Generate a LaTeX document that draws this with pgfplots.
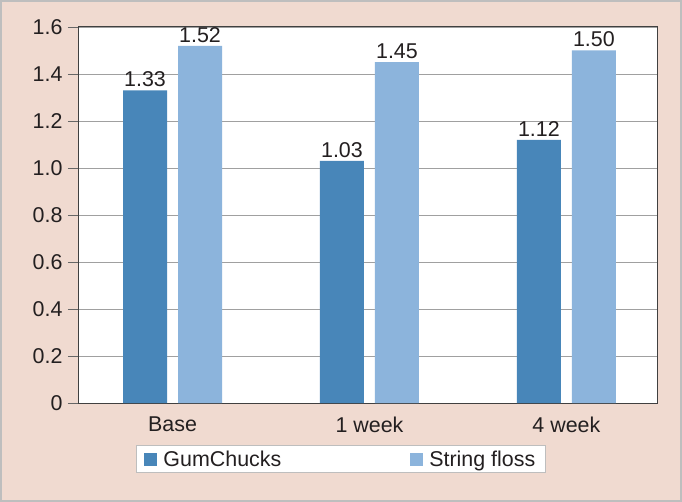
\documentclass[border=0pt]{standalone}
\usepackage{fontspec}
\setmainfont{Liberation Sans}
\usepackage{pgfplots}
\pgfplotsset{compat=1.18}
\pgfkeys{/pgf/number format/assume math mode=true}

\definecolor{gumc}{RGB}{72,134,185}
\definecolor{flossc}{RGB}{140,180,220}
\definecolor{bgc}{RGB}{240,218,208}
\definecolor{txtc}{RGB}{35,31,32}
\definecolor{gridc}{RGB}{160,160,160}
\definecolor{framec}{RGB}{190,190,190}

\begin{document}
\begin{tikzpicture}
% Hintergrund des ganzen Bildes
\fill[bgc] (0bp,0bp) rectangle (682bp,502bp);
\draw[framec, line width=2bp] (1bp,1bp) rectangle (681bp,501bp);

\begin{axis}[
    at               = {(78bp,99bp)},
    anchor           = south west,
    scale only axis,
    width            = 579bp,
    height           = 376bp,
    ybar             = 11bp,
    bar width        = 44bp,
    xmin = -0.48, xmax = 2.46,
    ymin = 0, ymax = 1.6,
    xtick            = {0,1,2},
    xticklabels      = {Base,1 week,4 week},
    ytick            = {0,0.2,0.4,0.6,0.8,1.0,1.2,1.4,1.6},
    yticklabels      = {0,0.2,0.4,0.6,0.8,1.0,1.2,1.4,1.6},
    x tick style     = {draw=none},
    y tick style     = {draw=black!60, line width=0.8bp},
    tick align       = outside,
    ytick pos        = left,
    major tick length= 10bp,
    tick label style = {font=\fontsize{21.5}{25}\selectfont, text=txtc},
    yticklabel style = {xshift=-2bp},
    axis line style  = {draw=black!75, line width=1bp},
    axis background/.style = {fill=white},
    ymajorgrids,
    grid style       = {gridc, line width=0.8bp},
    nodes near coords,
    every node near coord/.append style = {font=\fontsize{21.5}{25}\selectfont, text=txtc,
        /pgf/number format/fixed, /pgf/number format/fixed zerofill,
        /pgf/number format/precision=2},
    legend columns   = 2,
    legend cell align= left,
    legend style     = {at={(0.454,-0.112)}, anchor=north,
                        draw=framec, fill=white, line width=1bp,
                        font=\fontsize{21.5}{25}\selectfont, text=txtc,
                        inner xsep=8bp, inner ysep=3bp,
                        /tikz/every even column/.append style={column sep=127bp}},
    clip             = false,
]

\addplot[fill=gumc, draw=none,
    legend image code/.code={\fill[gumc] (0bp,-6.5bp) rectangle (13bp,6.5bp);
                             \path (17bp,0bp);}]
    coordinates {(0,1.33) (1,1.03) (2,1.12)};
\addlegendentry{GumChucks}

\addplot[fill=flossc, draw=none,
    legend image code/.code={\fill[flossc] (0bp,-6.5bp) rectangle (13bp,6.5bp);
                             \path (17bp,0bp);}]
    coordinates {(0,1.52) (1,1.45) (2,1.50)};
\addlegendentry{String floss}

\end{axis}
\end{tikzpicture}
\end{document}
